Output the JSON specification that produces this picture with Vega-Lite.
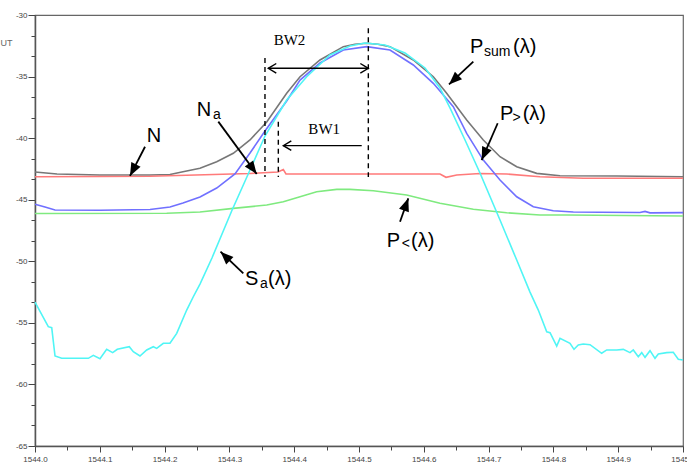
{
"$schema":"https://vega.github.io/schema/vega-lite/v6.json",
"width":648,"height":431,"autosize":"none",
"padding":{"left":35,"top":15,"right":4,"bottom":18},
"background":"white",
"config":{"view":{"stroke":"#666","strokeWidth":1.2},"font":"Liberation Sans"},
"resolve":{"axis":{"x":"independent","y":"independent"}},
"datasets":{
"curves":[
{"series":"Psum","wl":1544.0,"db":-42.75},{"series":"Psum","wl":1544.034,"db":-42.91},{"series":"Psum","wl":1544.1003,"db":-42.99},{"series":"Psum","wl":1544.1775,"db":-42.99},{"series":"Psum","wl":1544.2083,"db":-42.95},{"series":"Psum","wl":1544.2284,"db":-42.73},{"series":"Psum","wl":1544.2546,"db":-42.45},{"series":"Psum","wl":1544.2804,"db":-41.91},{"series":"Psum","wl":1544.306,"db":-41.23},{"series":"Psum","wl":1544.3318,"db":-40.15},{"series":"Psum","wl":1544.3576,"db":-38.69},{"series":"Psum","wl":1544.3884,"db":-36.36},{"series":"Psum","wl":1544.409,"db":-35.01},{"series":"Psum","wl":1544.4398,"db":-33.65},{"series":"Psum","wl":1544.4758,"db":-32.57},{"series":"Psum","wl":1544.4938,"db":-32.37},{"series":"Psum","wl":1544.5119,"db":-32.3},{"series":"Psum","wl":1544.5293,"db":-32.37},{"series":"Psum","wl":1544.5478,"db":-32.57},{"series":"Psum","wl":1544.5838,"db":-33.65},{"series":"Psum","wl":1544.6147,"db":-35.01},{"series":"Psum","wl":1544.6353,"db":-36.36},{"series":"Psum","wl":1544.6662,"db":-38.53},{"series":"Psum","wl":1544.6918,"db":-40.15},{"series":"Psum","wl":1544.7176,"db":-41.51},{"series":"Psum","wl":1544.7434,"db":-42.32},{"series":"Psum","wl":1544.7742,"db":-42.86},{"series":"Psum","wl":1544.8102,"db":-43.05},{"series":"Psum","wl":1544.8977,"db":-43.07},{"series":"Psum","wl":1545.0,"db":-43.13},
{"series":"Plt","wl":1544.0,"db":-46.12},{"series":"Plt","wl":1544.2032,"db":-46.1},{"series":"Plt","wl":1544.2546,"db":-46.0},{"series":"Plt","wl":1544.306,"db":-45.7},{"series":"Plt","wl":1544.3576,"db":-45.43},{"series":"Plt","wl":1544.3832,"db":-45.16},{"series":"Plt","wl":1544.409,"db":-44.76},{"series":"Plt","wl":1544.4347,"db":-44.35},{"series":"Plt","wl":1544.4656,"db":-44.16},{"series":"Plt","wl":1544.4861,"db":-44.16},{"series":"Plt","wl":1544.5221,"db":-44.27},{"series":"Plt","wl":1544.5736,"db":-44.62},{"series":"Plt","wl":1544.625,"db":-45.29},{"series":"Plt","wl":1544.6764,"db":-45.78},{"series":"Plt","wl":1544.7279,"db":-46.06},{"series":"Plt","wl":1544.7793,"db":-46.24},{"series":"Plt","wl":1544.8205,"db":-46.24},{"series":"Plt","wl":1545.0,"db":-46.32},
{"series":"N","wl":1544.0,"db":-43.13},{"series":"N","wl":1544.1003,"db":-43.12},{"series":"N","wl":1544.1775,"db":-43.1},{"series":"N","wl":1544.3318,"db":-42.87},{"series":"N","wl":1544.375,"db":-42.75},{"series":"N","wl":1544.3832,"db":-42.55},{"series":"N","wl":1544.3873,"db":-42.91},{"series":"N","wl":1544.4861,"db":-42.91},{"series":"N","wl":1544.625,"db":-42.91},{"series":"N","wl":1544.6343,"db":-43.18},{"series":"N","wl":1544.6508,"db":-42.99},{"series":"N","wl":1544.6867,"db":-42.87},{"series":"N","wl":1544.7279,"db":-42.91},{"series":"N","wl":1544.7793,"db":-43.13},{"series":"N","wl":1544.8461,"db":-43.26},{"series":"N","wl":1545.0,"db":-43.26},
{"series":"Pgt","wl":1544.0,"db":-45.37},{"series":"Pgt","wl":1544.0154,"db":-45.59},{"series":"Pgt","wl":1544.0309,"db":-45.84},{"series":"Pgt","wl":1544.1003,"db":-45.86},{"series":"Pgt","wl":1544.1775,"db":-45.8},{"series":"Pgt","wl":1544.2083,"db":-45.59},{"series":"Pgt","wl":1544.2284,"db":-45.27},{"series":"Pgt","wl":1544.2546,"db":-44.78},{"series":"Pgt","wl":1544.2804,"db":-44.05},{"series":"Pgt","wl":1544.3086,"db":-42.91},{"series":"Pgt","wl":1544.3318,"db":-41.21},{"series":"Pgt","wl":1544.3549,"db":-39.42},{"series":"Pgt","wl":1544.3884,"db":-36.98},{"series":"Pgt","wl":1544.409,"db":-35.28},{"series":"Pgt","wl":1544.4398,"db":-33.9},{"series":"Pgt","wl":1544.4758,"db":-32.84},{"series":"Pgt","wl":1544.5119,"db":-32.57},{"series":"Pgt","wl":1544.5478,"db":-32.84},{"series":"Pgt","wl":1544.5838,"db":-34.06},{"series":"Pgt","wl":1544.6147,"db":-35.55},{"series":"Pgt","wl":1544.6455,"db":-37.45},{"series":"Pgt","wl":1544.6662,"db":-39.61},{"series":"Pgt","wl":1544.6918,"db":-41.78},{"series":"Pgt","wl":1544.7176,"db":-43.4},{"series":"Pgt","wl":1544.7434,"db":-44.76},{"series":"Pgt","wl":1544.769,"db":-45.57},{"series":"Pgt","wl":1544.7998,"db":-45.89},{"series":"Pgt","wl":1544.8307,"db":-46.0},{"series":"Pgt","wl":1544.8719,"db":-46.02},{"series":"Pgt","wl":1544.9336,"db":-46.04},{"series":"Pgt","wl":1544.9414,"db":-45.95},{"series":"Pgt","wl":1544.9491,"db":-46.07},{"series":"Pgt","wl":1545.0,"db":-46.05},
{"series":"Sa","wl":1544.0,"db":-53.31},{"series":"Sa","wl":1544.0205,"db":-55.31},{"series":"Sa","wl":1544.0258,"db":-55.39},{"series":"Sa","wl":1544.0309,"db":-57.69},{"series":"Sa","wl":1544.0412,"db":-57.88},{"series":"Sa","wl":1544.0644,"db":-57.88},{"series":"Sa","wl":1544.0823,"db":-57.88},{"series":"Sa","wl":1544.09,"db":-57.64},{"series":"Sa","wl":1544.1003,"db":-57.91},{"series":"Sa","wl":1544.1106,"db":-57.15},{"series":"Sa","wl":1544.1199,"db":-57.42},{"series":"Sa","wl":1544.127,"db":-57.15},{"series":"Sa","wl":1544.1455,"db":-56.94},{"series":"Sa","wl":1544.1517,"db":-57.34},{"series":"Sa","wl":1544.162,"db":-57.69},{"series":"Sa","wl":1544.1724,"db":-57.2},{"series":"Sa","wl":1544.1826,"db":-56.94},{"series":"Sa","wl":1544.1878,"db":-57.07},{"series":"Sa","wl":1544.198,"db":-56.66},{"series":"Sa","wl":1544.2083,"db":-56.66},{"series":"Sa","wl":1544.2187,"db":-55.85},{"series":"Sa","wl":1544.2341,"db":-53.96},{"series":"Sa","wl":1544.2443,"db":-52.88},{"series":"Sa","wl":1544.2546,"db":-51.85},{"series":"Sa","wl":1544.2731,"db":-49.73},{"series":"Sa","wl":1544.3035,"db":-45.92},{"series":"Sa","wl":1544.3318,"db":-42.59},{"series":"Sa","wl":1544.3549,"db":-39.83},{"series":"Sa","wl":1544.3884,"db":-36.9},{"series":"Sa","wl":1544.4193,"db":-35.01},{"series":"Sa","wl":1544.4552,"db":-33.25},{"series":"Sa","wl":1544.4861,"db":-32.52},{"series":"Sa","wl":1544.5093,"db":-32.27},{"series":"Sa","wl":1544.5401,"db":-32.44},{"series":"Sa","wl":1544.571,"db":-33.09},{"series":"Sa","wl":1544.6019,"db":-34.3},{"series":"Sa","wl":1544.625,"db":-35.93},{"series":"Sa","wl":1544.6404,"db":-37.55},{"series":"Sa","wl":1544.6636,"db":-40.15},{"series":"Sa","wl":1544.6867,"db":-42.83},{"series":"Sa","wl":1544.7176,"db":-46.65},{"series":"Sa","wl":1544.7434,"db":-49.9},{"series":"Sa","wl":1544.7639,"db":-52.5},{"series":"Sa","wl":1544.7767,"db":-53.96},{"series":"Sa","wl":1544.7897,"db":-55.72},{"series":"Sa","wl":1544.7948,"db":-55.8},{"series":"Sa","wl":1544.8051,"db":-56.88},{"series":"Sa","wl":1544.8102,"db":-56.26},{"series":"Sa","wl":1544.8256,"db":-56.66},{"series":"Sa","wl":1544.8318,"db":-57.15},{"series":"Sa","wl":1544.8384,"db":-56.8},{"series":"Sa","wl":1544.8461,"db":-56.72},{"series":"Sa","wl":1544.8565,"db":-56.77},{"series":"Sa","wl":1544.8745,"db":-57.47},{"series":"Sa","wl":1544.8823,"db":-57.2},{"series":"Sa","wl":1544.8977,"db":-57.2},{"series":"Sa","wl":1544.9079,"db":-57.15},{"series":"Sa","wl":1544.9182,"db":-57.42},{"series":"Sa","wl":1544.9233,"db":-57.2},{"series":"Sa","wl":1544.931,"db":-57.75},{"series":"Sa","wl":1544.9363,"db":-57.42},{"series":"Sa","wl":1544.9414,"db":-57.8},{"series":"Sa","wl":1544.9491,"db":-57.26},{"series":"Sa","wl":1544.9568,"db":-57.88},{"series":"Sa","wl":1544.9619,"db":-57.53},{"series":"Sa","wl":1544.9748,"db":-57.42},{"series":"Sa","wl":1544.985,"db":-57.39},{"series":"Sa","wl":1544.9927,"db":-57.96},{"series":"Sa","wl":1545.0,"db":-58.02}
],
"dashes":[{"wl":1544.3549,"db":-33.49,"db2":-43.16},{"wl":1544.3755,"db":-38.66,"db2":-43.16},{"wl":1544.5144,"db":-31.08,"db2":-43.16}],
"bw":[{"wl":1544.36,"wl2":1544.5144,"db":-34.33},{"wl":1544.3832,"wl2":1544.5042,"db":-40.61}],
"chevL":[{"wl":1544.36,"db":-34.33},{"wl":1544.3832,"db":-40.61}],
"chevR":[{"wl":1544.5144,"db":-34.33}],
"arrows":[
{"id":"psum","wl":1544.6764,"db":-33.79,"wl2":1544.6389,"db2":-35.64},
{"id":"pgt","wl":1544.714,"db":-38.79,"wl2":1544.6893,"db2":-41.78},
{"id":"n","wl":1544.1698,"db":-40.70,"wl2":1544.1466,"db2":-43.07},
{"id":"na","wl":1544.2829,"db":-38.66,"wl2":1544.3421,"db2":-42.91},
{"id":"sa","wl":1544.3215,"db":-50.98,"wl2":1544.2863,"db2":-49.22},
{"id":"plt","wl":1544.5633,"db":-46.79,"wl2":1544.5761,"db2":-44.89}
],
"big":[
{"t":"P","wl":1544.6713,"db":-33.11},{"t":"(λ)","wl":1544.7377,"db":-33.11},
{"t":"P","wl":1544.7176,"db":-38.53},{"t":"(λ)","wl":1544.7526,"db":-38.53},
{"t":"N","wl":1544.1724,"db":-40.29},
{"t":"N","wl":1544.2495,"db":-38.2},
{"t":"S","wl":1544.3241,"db":-51.93},{"t":"(λ)","wl":1544.3596,"db":-51.93},
{"t":"P","wl":1544.5427,"db":-48.82},{"t":"(λ)","wl":1544.5802,"db":-48.82}
],
"small":[
{"t":"sum","wl":1544.6929,"db":-33.33},
{"t":">","wl":1544.7369,"db":-38.69},
{"t":"a","wl":1544.2747,"db":-38.45},
{"t":"a","wl":1544.3472,"db":-52.17},
{"t":"<","wl":1544.5659,"db":-48.92}
],
"bwtext":[{"t":"BW2","wl":1544.3927,"db":-32.44},{"t":"BW1","wl":1544.4463,"db":-39.69}]
},
"layer":[
{"data":{"name":"curves"},
 "mark":{"type":"line","strokeWidth":1.6},
 "encoding":{
  "x":{"field":"wl","type":"quantitative","title":null,
   "scale":{"domain":[1544,1545],"nice":false,"zero":false},
   "axis":{"values":[1544,1544.05,1544.1,1544.15,1544.2,1544.25,1544.3,1544.35,1544.4,1544.45,1544.5,1544.55,1544.6,1544.65,1544.7,1544.75,1544.8,1544.85,1544.9,1544.95,1545],
    "labelExpr":"round(datum.value*100) % 10 == 0 ? format(datum.value, '.1f') : ''",
    "labelFontSize":8,"labelColor":"#444","labelPadding":3,"labelFlush":false,"labelOverlap":false,
    "tickSize":{"condition":{"test":"round(datum.value*100) % 10 == 0","value":6},"value":4},
    "tickColor":"#444","tickWidth":1,"domainColor":"#555","domainWidth":1.5,"grid":false}},
  "y":{"field":"db","type":"quantitative","title":"UT",
   "scale":{"domain":[-65,-30],"nice":false,"zero":false},
   "axis":{"values":[-65,-63.3333,-61.6667,-60,-58.3333,-56.6667,-55,-53.3333,-51.6667,-50,-48.3333,-46.6667,-45,-43.3333,-41.6667,-40,-38.3333,-36.6667,-35,-33.3333,-31.6667,-30],
    "labelExpr":"abs(round(datum.value*3)) % 15 == 0 ? '' + round(datum.value) : ''",
    "labelFontSize":8,"labelColor":"#444","labelPadding":1,"labelFlush":false,"labelOverlap":false,
    "tickSize":{"condition":{"test":"abs(round(datum.value*3)) % 15 == 0","value":7},"value":4},
    "tickColor":"#444","tickWidth":1,"domainColor":"#555","domainWidth":1.5,"grid":false,
    "titleAngle":0,"titleAlign":"left","titleBaseline":"alphabetic","titleX":-35,"titleY":30,
    "titleFontSize":9,"titleFontWeight":"normal","titleColor":"#666"}},
  "color":{"field":"series","type":"nominal","legend":null,
   "scale":{"domain":["Psum","Plt","N","Pgt","Sa"],"range":["#777777","#7fea7f","#ff7a7a","#7070ff","#50f5f5"]}}
 }},
{"data":{"name":"dashes"},
 "mark":{"type":"rule","color":"#000","strokeWidth":1.4,"strokeDash":[5,4]},
 "encoding":{"x":{"field":"wl","type":"quantitative","axis":null},"y":{"field":"db","type":"quantitative","axis":null},"y2":{"field":"db2"}}},
{"data":{"name":"bw"},
 "mark":{"type":"rule","color":"#000","strokeWidth":1.4},
 "encoding":{"x":{"field":"wl","type":"quantitative","axis":null},"x2":{"field":"wl2"},"y":{"field":"db","type":"quantitative","axis":null}}},
{"data":{"name":"chevL"},
 "mark":{"type":"point","shape":"M1,-0.6L0,0L1,0.6","size":256,"filled":false,"color":"#000","strokeWidth":1.4,"opacity":1},
 "encoding":{"x":{"field":"wl","type":"quantitative","axis":null},"y":{"field":"db","type":"quantitative","axis":null}}},
{"data":{"name":"chevR"},
 "mark":{"type":"point","shape":"M-1,-0.6L0,0L-1,0.6","size":256,"filled":false,"color":"#000","strokeWidth":1.4,"opacity":1},
 "encoding":{"x":{"field":"wl","type":"quantitative","axis":null},"y":{"field":"db","type":"quantitative","axis":null}}},
{"data":{"name":"arrows"},
 "mark":{"type":"rule","color":"#000","strokeWidth":1.8},
 "encoding":{"x":{"field":"wl","type":"quantitative","axis":null},"x2":{"field":"wl2"},"y":{"field":"db","type":"quantitative","axis":null},"y2":{"field":"db2"}}},
{"data":{"name":"arrows"},"transform":[{"filter":"datum.id == 'psum'"}],
 "mark":{"type":"point","shape":"M0,0L-0.4,1L0.4,1Z","size":676,"filled":true,"color":"#000","opacity":1,"strokeWidth":0,"angle":226.8},
 "encoding":{"x":{"field":"wl2","type":"quantitative","axis":null},"y":{"field":"db2","type":"quantitative","axis":null}}},
{"data":{"name":"arrows"},"transform":[{"filter":"datum.id == 'pgt'"}],
 "mark":{"type":"point","shape":"M0,0L-0.4,1L0.4,1Z","size":676,"filled":true,"color":"#000","opacity":1,"strokeWidth":0,"angle":203.6},
 "encoding":{"x":{"field":"wl2","type":"quantitative","axis":null},"y":{"field":"db2","type":"quantitative","axis":null}}},
{"data":{"name":"arrows"},"transform":[{"filter":"datum.id == 'n'"}],
 "mark":{"type":"point","shape":"M0,0L-0.4,1L0.4,1Z","size":676,"filled":true,"color":"#000","opacity":1,"strokeWidth":0,"angle":207.1},
 "encoding":{"x":{"field":"wl2","type":"quantitative","axis":null},"y":{"field":"db2","type":"quantitative","axis":null}}},
{"data":{"name":"arrows"},"transform":[{"filter":"datum.id == 'na'"}],
 "mark":{"type":"point","shape":"M0,0L-0.4,1L0.4,1Z","size":676,"filled":true,"color":"#000","opacity":1,"strokeWidth":0,"angle":143.7},
 "encoding":{"x":{"field":"wl2","type":"quantitative","axis":null},"y":{"field":"db2","type":"quantitative","axis":null}}},
{"data":{"name":"arrows"},"transform":[{"filter":"datum.id == 'sa'"}],
 "mark":{"type":"point","shape":"M0,0L-0.4,1L0.4,1Z","size":676,"filled":true,"color":"#000","opacity":1,"strokeWidth":0,"angle":314.5},
 "encoding":{"x":{"field":"wl2","type":"quantitative","axis":null},"y":{"field":"db2","type":"quantitative","axis":null}}},
{"data":{"name":"arrows"},"transform":[{"filter":"datum.id == 'plt'"}],
 "mark":{"type":"point","shape":"M0,0L-0.4,1L0.4,1Z","size":676,"filled":true,"color":"#000","opacity":1,"strokeWidth":0,"angle":19.6},
 "encoding":{"x":{"field":"wl2","type":"quantitative","axis":null},"y":{"field":"db2","type":"quantitative","axis":null}}},
{"data":{"name":"big"},
 "mark":{"type":"text","font":"Liberation Sans","fontSize":20,"align":"left","baseline":"alphabetic","color":"#000"},
 "encoding":{"x":{"field":"wl","type":"quantitative","axis":null},"y":{"field":"db","type":"quantitative","axis":null},"text":{"field":"t"}}},
{"data":{"name":"small"},
 "mark":{"type":"text","font":"Liberation Sans","fontSize":14,"align":"left","baseline":"alphabetic","color":"#000"},
 "encoding":{"x":{"field":"wl","type":"quantitative","axis":null},"y":{"field":"db","type":"quantitative","axis":null},"text":{"field":"t"}}},
{"data":{"name":"bwtext"},
 "mark":{"type":"text","font":"Liberation Serif","fontSize":15,"align":"center","baseline":"alphabetic","color":"#000"},
 "encoding":{"x":{"field":"wl","type":"quantitative","axis":null},"y":{"field":"db","type":"quantitative","axis":null},"text":{"field":"t"}}}
]
}
